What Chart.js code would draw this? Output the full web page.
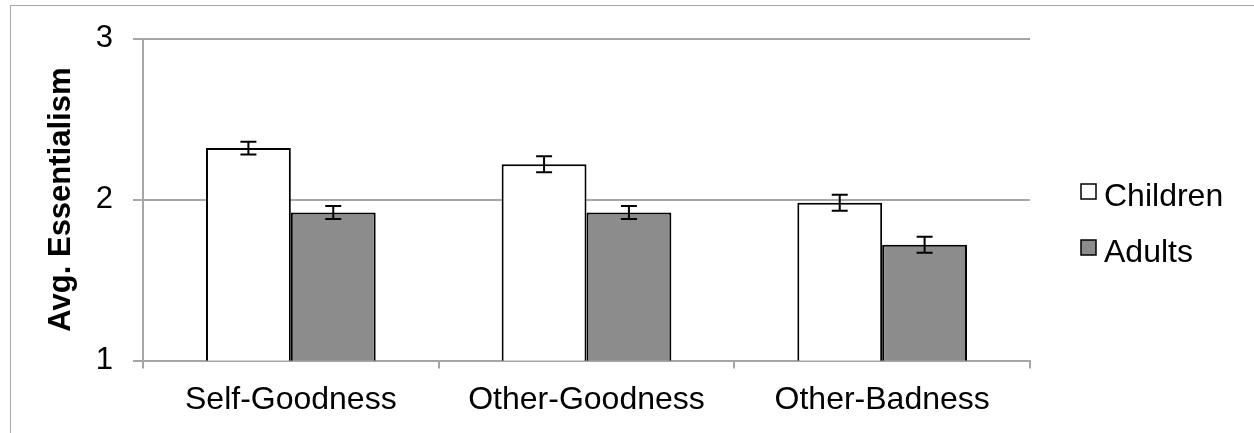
<!DOCTYPE html>
<html lang="en">
<head>
<meta charset="UTF-8">
<title>Avg. Essentialism</title>
<script src="https://cdn.jsdelivr.net/npm/chart.js"></script>
<style>
  html, body { margin: 0; padding: 0; background: #fff; overflow: hidden; }
  #frame { position: absolute; left: 10px; top: 5px; width: 1300px; height: 500px; border: 1px solid #a6a6a6; }
  #wrap { position: absolute; left: 0; top: 0; width: 1254px; height: 433px; }
</style>
</head>
<body>
<div id="frame"></div>
<div id="wrap"><canvas id="myChart"></canvas></div>
<script>
const categories = ['Self-Goodness', 'Other-Goodness', 'Other-Badness'];
const childrenMeans = [2.32, 2.22, 1.98];
const childrenErrors = [0.04, 0.05, 0.05];
const adultMeans = [1.92, 1.92, 1.72];
const adultErrors = [0.04, 0.04, 0.05];
const yTicks = [1, 2, 3];

const FONT = 'Liberation Sans, Arial, sans-serif';
const GRID = '#a6a6a6';

// error bars drawn on top of the bars, using the y scale
const errorBars = {
    id: 'errorBars',
    afterDatasetsDraw(chart) {
        const ctx = chart.ctx;
        const y = chart.scales.y;
        chart.data.datasets.forEach((ds, i) => {
            chart.getDatasetMeta(i).data.forEach((bar, j) => {
                const v = ds.data[j], e = ds.errors[j];
                const top = y.getPixelForValue(v + e);
                const bot = y.getPixelForValue(v - e);
                ctx.save();
                ctx.strokeStyle = '#000';
                ctx.lineWidth = 2;
                ctx.beginPath();
                ctx.moveTo(bar.x, top); ctx.lineTo(bar.x, bot);
                ctx.moveTo(bar.x - 8, top); ctx.lineTo(bar.x + 8, top);
                ctx.moveTo(bar.x - 8, bot); ctx.lineTo(bar.x + 8, bot);
                ctx.stroke();
                ctx.restore();
            });
        });
    }
};

// legend to the right of the plot, like the original
const sideLegend = {
    id: 'sideLegend',
    afterDraw(chart) {
        const ctx = chart.ctx;
        const area = chart.chartArea;
        const x = area.right + 51;
        let rowY = 197;
        chart.data.datasets.forEach(ds => {
            ctx.save();
            ctx.fillStyle = ds.backgroundColor;
            ctx.strokeStyle = '#000';
            ctx.lineWidth = 1.5;
            ctx.fillRect(x, rowY - 13, 15, 15);
            ctx.strokeRect(x, rowY - 13, 15, 15);
            ctx.fillStyle = '#000';
            ctx.font = '32px ' + FONT;
            ctx.textBaseline = 'middle';
            ctx.fillText(ds.label, x + 23, rowY);
            ctx.restore();
            rowY += 56;
        });
    }
};

const ctx = document.getElementById('myChart').getContext('2d');
new Chart(ctx, {
    type: 'bar',
    data: {
        labels: categories,
        datasets: [
            { label: 'Children', data: childrenMeans, errors: childrenErrors,
              backgroundColor: '#ffffff', borderColor: '#000', borderWidth: 2 },
            { label: 'Adults', data: adultMeans, errors: adultErrors,
              backgroundColor: '#8c8c8c', borderColor: '#000', borderWidth: 2 }
        ]
    },
    options: {
        responsive: true,
        maintainAspectRatio: false,
        animation: false,
        categoryPercentage: 0.574,
        barPercentage: 1.0,
        layout: { padding: { left: 43, right: 224, top: 25, bottom: 2 } },
        plugins: {
            legend: { display: false },
            tooltip: { enabled: false }
        },
        scales: {
            x: {
                grid: { drawOnChartArea: false, color: GRID, lineWidth: 2, tickLength: 8 },
                border: { color: GRID, width: 2 },
                ticks: { color: '#000', font: { family: FONT, size: 32 }, padding: 12 }
            },
            y: {
                min: yTicks[0],
                max: yTicks[yTicks.length - 1],
                afterFit(scale) { scale.width = 100; },
                ticks: { stepSize: 1, color: '#000', font: { family: FONT, size: 31 }, padding: 20 },
                grid: { color: GRID, lineWidth: 2, tickLength: 10 },
                border: { color: GRID, width: 2 },
                title: { display: true, text: 'Avg. Essentialism', color: '#000',
                         font: { family: FONT, size: 31, weight: 'bold' }, padding: 0 }
            }
        }
    },
    plugins: [errorBars, sideLegend]
});
</script>
</body>
</html>
